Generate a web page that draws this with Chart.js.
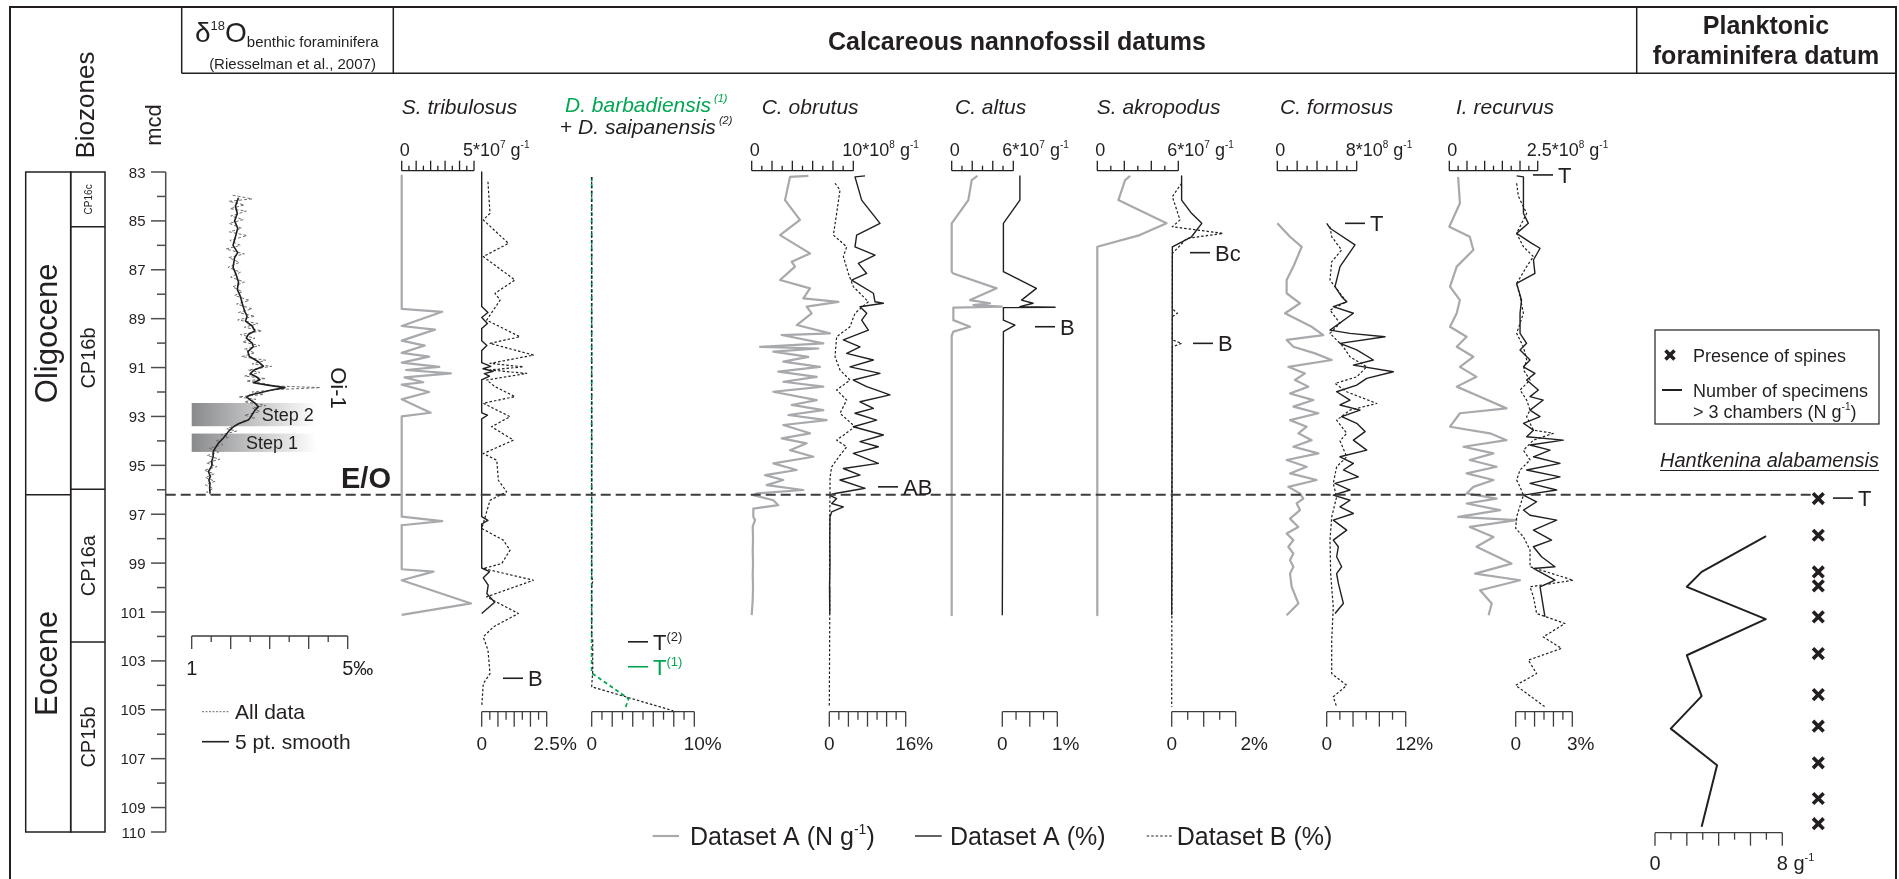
<!DOCTYPE html>
<html><head><meta charset="utf-8">
<script src="https://cdn.jsdelivr.net/npm/chart.js@4.4.1/dist/chart.umd.min.js"></script>
<style>html,body{margin:0;padding:0;background:#fff;overflow:hidden}canvas{display:block}</style>
</head><body>
<canvas id="c" width="1899" height="879"></canvas>
<script>
// ================= DATA (depth mcd, value) =================
const depthLabels = [83,85,87,89,91,93,95,97,99,101,103,105,107,109,110];
const depthMinor = [84,86,88,90,92,94,96,98,100,102,104,106,108];
const epochs = [['Oligocene',83,96.2],['Eocene',96.2,110]];
const subzones = [['CP16c',83,85.24],['CP16b',85.24,95.98],['CP16a',95.98,102.23],['CP15b',102.23,110]];
const eoDepth = 96.2;
const steps = [['Step 2',92.45,93.4],['Step 1',93.7,94.45]];

// δ18O benthic foraminifera (‰)
const d18O_smooth = [[84.05,2.20],[84.4,2.12],[84.7,2.17],[85.0,2.10],[85.3,2.18],[85.6,2.13],[86.0,2.06],[86.3,2.18],[86.5,2.10],[86.9,2.06],[87.2,2.14],[87.5,2.20],[87.8,2.17],[88.1,2.25],[88.4,2.30],[88.7,2.36],[88.9,2.42],[89.1,2.38],[89.3,2.55],[89.5,2.62],[89.65,2.45],[89.8,2.40],[90.0,2.55],[90.15,2.58],[90.35,2.44],[90.55,2.48],[90.75,2.70],[90.95,2.84],[91.1,2.60],[91.25,2.50],[91.4,2.68],[91.5,2.75],[91.62,2.58],[91.72,2.95],[91.82,3.39],[91.92,3.05],[92.03,2.75],[92.12,2.50],[92.2,2.41],[92.3,2.48],[92.45,2.62],[92.6,2.71],[92.75,2.62],[92.9,2.56],[93.05,2.50],[93.15,2.45],[93.3,2.20],[93.45,2.05],[93.6,1.95],[93.75,1.88],[93.9,1.80],[94.1,1.68],[94.3,1.60],[94.45,1.55],[94.65,1.55],[94.85,1.51],[95.0,1.52],[95.26,1.43],[95.45,1.48],[95.6,1.44],[95.75,1.47],[95.9,1.46],[96.15,1.47]];
const d18O_all = [[83.95,2.05],[84.1,2.55],[84.2,1.95],[84.35,2.35],[84.5,1.98],[84.6,2.40],[84.8,2.00],[84.95,2.32],[85.1,1.96],[85.3,2.28],[85.45,1.97],[85.6,2.42],[85.8,1.98],[86.0,2.25],[86.15,1.88],[86.35,2.35],[86.5,1.95],[86.7,2.22],[86.9,1.93],[87.1,2.25],[87.3,2.00],[87.5,2.35],[87.7,2.05],[87.9,2.30],[88.05,2.10],[88.25,2.48],[88.4,2.15],[88.6,2.55],[88.75,2.20],[88.9,2.62],[89.05,2.18],[89.2,2.70],[89.35,2.35],[89.5,2.80],[89.65,2.25],[89.8,2.62],[89.95,2.30],[90.1,2.75],[90.25,2.35],[90.4,2.62],[90.55,2.28],[90.7,2.90],[90.85,2.55],[90.95,3.05],[91.1,2.45],[91.2,2.75],[91.35,2.35],[91.45,2.90],[91.55,2.40],[91.65,2.85],[91.75,3.10],[91.82,4.30],[91.9,3.20],[92.0,2.55],[92.1,2.85],[92.2,2.20],[92.3,2.65],[92.4,2.35],[92.55,2.90],[92.65,2.55],[92.8,2.75],[92.95,2.35],[93.05,2.62],[93.2,2.30],[93.35,2.15],[93.5,1.90],[93.6,2.15],[93.75,1.75],[93.85,1.95],[94.0,1.62],[94.15,1.80],[94.3,1.45],[94.45,1.70],[94.6,1.40],[94.75,1.72],[94.9,1.38],[95.05,1.65],[95.2,1.32],[95.35,1.58],[95.5,1.35],[95.65,1.60],[95.8,1.35],[95.95,1.55],[96.1,1.38],[96.2,1.50]];

// S. tribulosus: N (x10^7 g-1), A %, B %
const tri_N = [[83.15,0],[88.6,0],[88.72,2.8],[89.3,0],[89.45,2.3],[89.9,0],[90.1,1.6],[90.4,0],[90.55,1.9],[90.8,0],[90.97,2.6],[91.1,0.3],[91.24,3.4],[91.4,0.2],[91.6,1.5],[91.7,0],[92.0,1.9],[92.3,0],[92.85,2.0],[93.0,0],[97.1,0],[97.28,2.8],[97.45,0],[99.25,0],[99.35,2.2],[99.7,0],[100.65,4.8],[101.12,0]];
const tri_A = [[83.0,0],[88.5,0],[88.75,0.24],[88.95,0],[89.2,0.22],[89.4,0],[89.9,0],[90.1,0.2],[90.3,0],[90.8,0],[90.95,0.35],[91.05,0.05],[91.15,0.44],[91.25,0.1],[91.35,0.3],[91.5,0],[92.85,0],[92.95,0.22],[93.1,0],[97.1,0],[97.25,0.24],[97.4,0],[99.2,0],[99.35,0.3],[99.6,0.06],[99.9,0.25],[100.25,0.2],[100.6,0.5],[101.06,0]];
const tri_B = [[83.4,0.24],[84.69,0.32],[84.96,0.06],[85.92,1.03],[86.46,0.06],[87.42,1.28],[87.96,0.51],[88.24,0.71],[89.06,0.19],[89.74,1.47],[90.01,0.32],[90.49,1.99],[90.83,0.32],[90.97,1.6],[91.1,0.32],[91.24,1.73],[91.51,0.19],[91.78,0.51],[92.19,1.28],[92.46,0.06],[93.01,1.09],[93.42,0.38],[93.97,1.22],[94.52,0.06],[94.79,0.58],[95.61,0.64],[96.08,0.96],[96.43,0.32],[97.38,0.06],[97.58,0],[98.06,0.83],[98.47,1.09],[99.02,0.77],[99.22,0.06],[99.7,1.99],[100.38,0.19],[101.06,1.41],[101.61,0.45],[102.02,0.06],[102.56,0.24],[103.52,0.32],[103.93,0.06],[104.88,0]];

// D. barbadiensis (A %, green) + D. saipanensis (B %)
const barb_A = [[83.2,0],[103.5,0],[104.55,3.6],[104.9,3.3]];
const saip_B = [[83.2,0],[99.6,0],[99.72,0.15],[99.85,0],[102.0,0],[102.1,0.1],[103.4,0.1],[104.06,0],[105.04,7.95]];

// C. obrutus: N (x10^8 g-1), A %, B %
const obr_N = [[83.16,5.58],[83.2,3.77],[84.15,3.28],[84.96,4.75],[85.58,2.79],[86.33,5.74],[86.67,3.93],[86.87,4.26],[87.42,2.79],[87.76,5.74],[88.17,5.08],[88.31,8.53],[88.51,5.41],[88.78,5.9],[89.26,4.43],[89.6,7.71],[89.67,2.95],[90.01,7.05],[90.15,0.82],[90.22,6.56],[90.35,2.13],[90.56,5.58],[90.76,3.11],[90.97,6.72],[91.17,2.62],[91.38,6.4],[91.58,3.11],[91.78,7.05],[91.99,2.13],[92.33,6.4],[92.53,3.93],[92.74,7.05],[92.94,3.61],[93.15,7.38],[93.35,3.11],[93.69,5.74],[93.9,2.95],[94.1,5.41],[94.38,3.77],[94.65,6.07],[94.92,2.13],[95.19,4.43],[95.4,1.31],[95.6,3.11],[95.81,1.47],[96.01,5.08],[96.15,0.49],[96.22,0.16],[96.43,2.13],[96.63,2.62],[96.77,0.16],[97.11,0.16],[97.24,0.33],[97.5,0.1],[98.0,0.13],[98.5,0.1],[99.0,0.13],[99.5,0.1],[100.0,0.13],[100.5,0.1],[101.13,0.0]];
const obr_A = [[83.16,7.48],[83.2,5.38],[84.15,6.78],[85.1,10.62],[85.58,5.73],[86.06,5.38],[86.4,9.57],[86.74,6.08],[87.15,7.83],[87.42,4.68],[87.96,9.23],[88.31,9.57],[88.37,11.32],[88.51,6.43],[88.78,7.83],[89.06,6.78],[89.47,8.18],[89.87,2.94],[90.15,6.43],[90.42,3.64],[90.69,9.23],[90.97,4.33],[91.24,10.62],[91.51,5.03],[91.78,7.83],[92.12,12.71],[92.4,6.43],[92.67,9.23],[92.87,5.38],[93.15,9.92],[93.42,5.03],[93.76,11.32],[94.03,6.43],[94.24,10.27],[94.51,5.03],[94.92,10.27],[95.13,2.94],[95.4,6.43],[95.6,2.24],[95.94,7.48],[96.15,1.2],[96.22,0],[96.36,1.54],[96.56,0.5],[96.7,2.94],[96.9,0.5],[97.11,0.15],[98,0.1],[99,0.15],[100,0.05],[101.06,0.1]];
const obr_B = [[83.46,1.2],[83.74,2.24],[84.69,1.54],[85.58,0.85],[86.06,3.64],[86.46,2.94],[87.15,4.0],[87.69,5.03],[88.31,8.18],[88.78,5.38],[89.33,4.33],[89.74,1.54],[90.56,1.2],[91.1,2.24],[91.51,4.33],[91.92,1.54],[92.33,3.64],[92.87,2.24],[93.42,5.38],[93.97,1.54],[94.24,3.64],[94.65,2.0],[95.06,0.5],[95.5,0.15],[96.22,0.15],[97,0.1],[99,0.05],[101,0.1],[103,0.05],[104.88,0.0]];

// C. altus: N (x10^7 g-1), A %
const alt_N = [[83.16,2.5],[83.33,1.95],[84.15,1.62],[85.1,0],[87.08,0],[87.15,0.16],[87.76,4.38],[88.24,1.79],[88.37,3.73],[88.44,2.11],[88.51,4.87],[88.55,0.16],[89.06,0.16],[89.33,1.79],[89.53,0.16],[89.7,0],[101.13,0]];
const alt_A = [[83.16,0.32],[84.15,0.32],[85.1,0.02],[87.08,0.02],[87.76,0.62],[88.24,0.35],[88.37,0.56],[88.51,0.32],[88.53,0.96],[88.55,0.02],[89.06,0.02],[89.26,0.23],[89.53,0.02],[101.13,0.0]];

// S. akropodus: N (x10^7 g-1), A %, B %
const akr_N = [[83.16,2.43],[83.33,2.06],[84.15,1.56],[85.1,5.13],[85.58,3.15],[86.06,0],[101.13,0]];
const akr_A = [[83.16,0.31],[84.15,0.31],[84.69,0.62],[85.1,0.94],[85.65,0.62],[86.06,0.02],[101.13,0.0]];
const akr_B = [[83.46,0.31],[84.01,0.02],[84.96,0.26],[85.24,0.02],[85.51,1.6],[85.72,0.47],[86.12,0.18],[86.33,0.02],[88.6,0.02],[88.78,0.18],[88.92,0.02],[89.87,0.02],[90.01,0.31],[90.15,0.02],[104.88,0.0]];

// C. formosus: N (x10^8 g-1), A %, B %
const for_N = [[85.1,0.0],[85.65,1.28],[86.06,2.46],[86.87,1.62],[87.42,0.94],[87.96,0.94],[88.37,2.29],[88.78,0.78],[89.33,3.46],[89.67,4.64],[89.87,0.94],[90.15,1.62],[90.42,3.8],[90.69,5.48],[90.97,1.11],[91.24,2.79],[91.51,1.78],[91.78,3.13],[92.06,1.28],[92.33,3.63],[92.6,1.62],[92.87,4.14],[93.15,1.28],[93.42,2.96],[93.69,2.12],[93.97,3.46],[94.24,1.62],[94.51,4.14],[94.78,0.94],[95.06,2.96],[95.33,1.28],[95.6,3.97],[95.88,1.11],[96.15,2.29],[96.36,2.62],[96.56,1.95],[96.83,2.29],[97.18,1.28],[97.52,2.12],[97.79,0.94],[98.06,1.62],[98.33,1.11],[98.61,1.62],[98.88,1.28],[99.15,1.62],[99.43,1.28],[99.97,1.45],[100.65,2.12],[101.13,0.94]];
const for_A = [[85.1,0.0],[85.3,0.5],[85.98,4.3],[86.87,2.02],[87.69,1.26],[88.1,2.27],[88.31,3.04],[88.51,1.0],[88.78,4.05],[89.47,0.5],[89.6,3.54],[89.74,8.86],[90.01,2.02],[90.28,4.56],[90.69,7.09],[90.9,4.05],[91.17,10.13],[91.44,6.08],[91.72,4.56],[91.99,1.51],[92.33,3.54],[92.53,2.02],[92.74,5.07],[93.01,2.27],[93.28,4.56],[93.62,5.83],[93.97,4.05],[94.38,6.08],[94.65,2.02],[94.92,4.05],[95.19,2.53],[95.47,4.81],[95.74,1.26],[96.01,3.54],[96.22,1.0],[96.43,3.54],[96.7,2.02],[96.97,4.05],[97.24,1.0],[97.65,3.04],[98.06,1.0],[98.33,1.77],[98.74,1.51],[99.15,2.27],[99.43,1.51],[99.83,1.77],[100.65,2.53],[101.06,1.26]];
const for_B = [[85.24,0.5],[85.65,0.76],[86.19,2.27],[86.67,0.76],[87.42,0.5],[87.96,2.02],[88.31,3.04],[88.65,0.5],[89.19,2.02],[89.6,0.5],[90.15,2.53],[90.56,3.54],[90.97,6.08],[91.38,4.56],[91.65,1.26],[91.99,3.04],[92.47,7.6],[92.74,3.54],[93.15,1.51],[93.69,3.04],[94.0,2.02],[94.65,3.04],[95.06,1.51],[95.74,1.0],[96.29,1.51],[97.11,0.76],[98.06,0.5],[99.43,0.6],[100.8,1.0],[102.15,0.76],[103.52,0.76],[104.0,3.04],[104.47,1.0],[104.88,1.51]];

// I. recurvus: N (x10^8 g-1), A %, B %
const rec_N = [[83.2,0.25],[84.28,0.3],[85.24,0.0],[85.65,0.58],[86.19,0.68],[86.87,0.21],[87.69,0.02],[88.24,0.3],[88.78,0.21],[89.33,0.02],[89.74,0.49],[90.15,0.21],[90.56,0.68],[90.97,0.3],[91.38,0.77],[91.78,0.21],[92.19,0.87],[92.67,1.62],[92.87,0.3],[93.42,0.02],[93.69,1.15],[93.97,1.62],[94.24,0.4],[94.51,1.25],[94.78,0.58],[95.06,1.34],[95.33,0.49],[95.6,1.25],[95.88,0.68],[96.15,0.49],[96.36,1.34],[96.56,0.49],[96.83,1.44],[97.11,0.25],[97.24,1.9],[97.52,0.58],[97.93,1.25],[98.33,0.77],[99.02,1.76],[99.43,0.73],[99.7,2.0],[100.11,0.87],[100.65,1.2],[101.13,1.11]];
const rec_A = [[83.16,0.05],[83.2,0.41],[84.69,0.41],[85.1,0.67],[85.51,0.05],[85.92,0.85],[86.12,1.29],[86.6,0.94],[87.15,1.02],[87.56,0.05],[88.24,0.31],[88.78,0.23],[89.6,0.23],[90.01,0.58],[90.28,0.23],[90.69,0.76],[90.97,0.41],[91.24,1.02],[91.51,0.58],[91.92,1.2],[92.19,0.76],[92.33,1.46],[92.74,0.76],[93.01,1.29],[93.28,0.41],[93.56,0.94],[93.83,0.58],[93.97,2.52],[94.17,0.76],[94.38,1.82],[94.65,0.94],[94.92,2.35],[95.19,0.58],[95.47,2.35],[95.74,0.76],[96.01,2.17],[96.22,0.41],[96.49,1.11],[96.83,0.41],[97.04,0.76],[97.24,2.17],[97.65,0.94],[98.06,1.9],[98.33,0.94],[98.74,1.37],[99.15,2.08],[99.22,0.94],[99.7,2.08],[99.97,1.29],[101.2,1.55]];
const rec_B = [[83.46,0.05],[83.99,0.14],[84.69,0.58],[85.51,0.05],[86.06,0.41],[86.46,0.94],[86.87,0.58],[87.56,0.05],[88.1,0.23],[88.78,0.41],[89.6,0.05],[90.15,0.41],[90.69,0.58],[91.1,0.41],[91.51,0.76],[91.92,0.23],[92.33,0.58],[92.74,0.76],[93.01,0.58],[93.56,0.94],[93.69,1.99],[93.97,0.94],[94.38,0.41],[94.78,0.76],[95.19,0.23],[95.6,0.05],[95.88,0.23],[96.22,0.41],[97.11,0.05],[97.58,0],[97.93,0.41],[98.47,0.76],[99.15,0.76],[99.7,3.05],[99.97,0.76],[100.38,0.94],[101.06,1.11],[101.47,2.61],[102.02,1.46],[102.49,2.43],[102.97,0.67],[103.52,1.11],[104.0,0],[104.88,1.55]];

// Hantkenina alabamensis: specimens >3 chambers (N g-1) and presence of spines
const hant_N = [[97.9,6.98],[99.36,2.93],[99.97,2.0],[101.29,6.96],[102.77,2.0],[104.44,2.93],[105.77,0.99],[107.27,3.9],[109.79,2.93]];
const hant_spines = [[96.36,1],[97.86,1],[99.36,1],[99.93,1],[101.2,1],[102.7,1],[104.38,1],[105.67,1],[107.17,1],[108.63,1],[109.66,1]];

// Datum labels: [depth, label, superscript, colour, dash start px]
const datums = [
 [103.71,'B','', 'k', 503],
 [102.22,'T','(2)','k', 628],
 [103.24,'T','(1)','g', 628],
 [95.88,'AB','','k', 878],
 [89.33,'B','','k', 1035],
 [86.3,'Bc','','k', 1190],
 [90.01,'B','','k', 1193],
 [85.1,'T','','k', 1345],
 [83.12,'T','','k', 1533],
 [96.34,'T','','k', 1833]
];

// Scale bars (ranges + tick labels)
const scaleBars = [
 {id:'xD18O', a:1, b:5, n:8, lab0:'1', lab1:'5', unit:'‰', kind:'d18'},
 {id:'xTriN', a:0, b:5, n:10, lab0:'0', lab1:'5*10', exp:'7', kind:'top'},
 {id:'xTriP', a:0, b:2.5, n:8, lab0:'0', lab1:'2.5', unit:'%', kind:'bot'},
 {id:'xBarP', a:0, b:10, n:10, lab0:'0', lab1:'10', unit:'%', kind:'bot'},
 {id:'xObrN', a:0, b:10, n:10, lab0:'0', lab1:'10*10', exp:'8', kind:'top'},
 {id:'xObrP', a:0, b:16, n:8, lab0:'0', lab1:'16', unit:'%', kind:'bot'},
 {id:'xAltN', a:0, b:6, n:6, lab0:'0', lab1:'6*10', exp:'7', kind:'top'},
 {id:'xAltP', a:0, b:1, n:4, lab0:'0', lab1:'1', unit:'%', kind:'bot'},
 {id:'xAkrN', a:0, b:6, n:6, lab0:'0', lab1:'6*10', exp:'7', kind:'top'},
 {id:'xAkrP', a:0, b:2, n:4, lab0:'0', lab1:'2', unit:'%', kind:'bot', dx:10},
 {id:'xForN', a:0, b:8, n:8, lab0:'0', lab1:'8*10', exp:'8', kind:'top'},
 {id:'xForP', a:0, b:12, n:6, lab0:'0', lab1:'12', unit:'%', kind:'bot'},
 {id:'xRecN', a:0, b:2.5, n:10, lab0:'0', lab1:'2.5*10', exp:'8', kind:'top'},
 {id:'xRecP', a:0, b:3, n:6, lab0:'0', lab1:'3', unit:'%', kind:'bot'},
 {id:'xHan', a:0, b:8, n:8, lab0:'0', lab1:'8', unit:' g', exp2:'-1', kind:'han'}
];

// ================= LAYOUT / STYLE =================
const W = 1899, H = 879;
const INK = '#231f20', GRAY = '#a7a9ac', GREEN = '#00a651';
const FONT = '"Liberation Sans", Arial, Helvetica, sans-serif';
// pixel placement of each value axis: [value0, px0, value1, px1]
const AXPX = {
 xD18O:[1,191.7,5,347.7], xTriN:[0,401.7,5,474], xTriP:[0,481.7,2.5,546.7], xBarP:[0,591.7,10,694.3],
 xObrN:[0,751.7,10,853.3], xObrP:[0,829.3,16,905.7], xAltN:[0,951.7,6,1013.3], xAltP:[0,1002.3,1,1057.3],
 xAkrN:[0,1097.3,6,1178.3], xAkrP:[0,1171.7,2,1235.7], xForN:[0,1277.3,8,1356.7], xForP:[0,1326.7,12,1405.7],
 xRecN:[0,1449.3,2.5,1537.7], xRecP:[0,1515.7,3,1572.3], xHan:[0,1655,8,1782.3], xPres:[0,1718.3,1,1818.3]
};
const Y0PX = 172, Y1PX = 832;

const scales = {};
for (const k in AXPX) {
  const [v0,p0,v1,p1] = AXPX[k]; const s = (p1-p0)/(v1-v0); const mn = v0 - p0/s;
  scales[k] = {type:'linear', display:false, bounds:'data', min:mn, max:mn + W/s, grace:0};
}
{ const s = (Y1PX-Y0PX)/(110-83); const mn = 83 - Y0PX/s;
  scales.y = {type:'linear', display:false, reverse:true, bounds:'data', min:mn, max:mn + H/s, grace:0}; }

function ds(arr, xid, st){
  return Object.assign({data:arr.map(p=>({x:p[1], y:p[0]})), xAxisID:xid, yAxisID:'y', showLine:true,
    pointRadius:0, pointHoverRadius:0, pointHitRadius:0, fill:false, tension:0, borderJoinStyle:'round', clip:false}, st);
}
const sGray = {borderColor:GRAY, borderWidth:2.2};
const sBlk = {borderColor:INK, borderWidth:1.4};
const sDot = {borderColor:INK, borderWidth:1.2, borderDash:[2.5,2]};

const datasets = [
  Object.assign(ds(hant_spines,'xPres',{}),{showLine:false, pointStyle:'crossRot', pointRadius:7.5, pointBorderWidth:3.6, pointBorderColor:INK, borderColor:INK}),
  ds(hant_N,'xHan',{borderColor:INK, borderWidth:2}),
  ds(d18O_smooth,'xD18O',{borderColor:INK, borderWidth:1.6}),
  ds(d18O_all,'xD18O',{borderColor:'#6d6e71', borderWidth:1, borderDash:[3,2]}),
  ds(tri_A,'xTriP',sBlk), ds(obr_A,'xObrP',sBlk), ds(alt_A,'xAltP',sBlk), ds(akr_A,'xAkrP',sBlk), ds(for_A,'xForP',sBlk), ds(rec_A,'xRecP',sBlk),
  ds(saip_B,'xBarP',sDot),
  ds(tri_B,'xTriP',sDot), ds(obr_B,'xObrP',sDot), ds(akr_B,'xAkrP',sDot), ds(for_B,'xForP',sDot), ds(rec_B,'xRecP',sDot),
  ds(barb_A,'xBarP',{borderColor:GREEN, borderWidth:1.8, borderDash:[4,3]}),
  ds(tri_N,'xTriN',sGray), ds(obr_N,'xObrN',sGray), ds(alt_N,'xAltN',sGray), ds(akr_N,'xAkrN',sGray), ds(for_N,'xForN',sGray), ds(rec_N,'xRecN',sGray)
];

// ================= DRAW HELPERS =================
function fnt(s){ return (s.i?'italic ':'') + (s.b?'bold ':'') + s.s + 'px ' + FONT; }
function rich(ctx, x, y, segs, align){
  const ws = segs.map(s=>{ctx.font=fnt(s); return ctx.measureText(s.t).width;});
  const tot = ws.reduce((a,b)=>a+b,0);
  let cx = x;
  if (align==='center') cx = x - tot/2; else if (align==='right') cx = x - tot; else if (align==='first') cx = x - ws[0]/2;
  ctx.textAlign='left'; ctx.textBaseline='alphabetic';
  segs.forEach((s,i)=>{ ctx.font=fnt(s); ctx.fillStyle=s.c||INK; ctx.fillText(s.t, cx, y+(s.dy||0)); cx+=ws[i]; });
  return tot;
}
function line(ctx,x0,y0,x1,y1,w,c,dash){ ctx.save(); ctx.beginPath(); ctx.strokeStyle=c||INK; ctx.lineWidth=w||1.5; ctx.setLineDash(dash||[]); ctx.moveTo(x0,y0); ctx.lineTo(x1,y1); ctx.stroke(); ctx.restore(); }
function vtext(ctx, t, x, y, size, rot, style){ ctx.save(); ctx.translate(x,y); ctx.rotate(rot); ctx.font=(style||'')+' '+size+'px '+FONT; ctx.fillStyle=INK; ctx.textAlign='center'; ctx.textBaseline='middle'; ctx.fillText(t,0,0); ctx.restore(); }

const figPlugin = {
  id:'fig',
  beforeDatasetsDraw(chart){
    const ctx = chart.ctx, Y = chart.scales.y, X = chart.scales.xD18O;
    steps.forEach(([lab,d0,d1])=>{
      const x0 = X.getPixelForValue(1), x1 = X.getPixelForValue(4.2);
      const g = ctx.createLinearGradient(x0,0,x1,0); g.addColorStop(0,'#898a8c'); g.addColorStop(1,'#ffffff');
      ctx.fillStyle = g; const y0 = Y.getPixelForValue(d0), y1 = Y.getPixelForValue(d1);
      ctx.fillRect(x0, y0, x1-x0, y1-y0);
    });
  },
  afterDatasetsDraw(chart){
    const ctx = chart.ctx, Y = chart.scales.y, S = chart.scales;
    // frame
    ctx.save(); ctx.beginPath(); ctx.strokeStyle=INK; ctx.lineWidth=2; ctx.moveTo(10,H+2); ctx.lineTo(10,7); ctx.lineTo(1896,7); ctx.lineTo(1896,H+2); ctx.stroke(); ctx.restore();
    line(ctx,181.7,7,181.7,73.3,1.5); line(ctx,393.3,7,393.3,73.3,1.5); line(ctx,181.7,73.3,1896,73.3,1.5); line(ctx,1636.7,7,1636.7,73.3,1.5);
    // header texts
    rich(ctx,195,42,[{t:'δ',s:28},{t:'18',s:13,dy:-12},{t:'O',s:28},{t:'benthic foraminifera',s:15,dy:5}],'left');
    rich(ctx,292.5,68.5,[{t:'(Riesselman et al., 2007)',s:15}],'center');
    rich(ctx,1017,50,[{t:'Calcareous nannofossil datums',s:25,b:1}],'center');
    rich(ctx,1766,34,[{t:'Planktonic',s:25,b:1}],'center');
    rich(ctx,1766,64,[{t:'foraminifera datum',s:25,b:1}],'center');
    // biozone columns
    vtext(ctx,'Biozones',86.7,105,26,-Math.PI/2);
    vtext(ctx,'mcd',155,125,22,-Math.PI/2);
    const yt = Y.getPixelForValue(83), yb = Y.getPixelForValue(110);
    ctx.save(); ctx.strokeStyle=INK; ctx.lineWidth=1.5; ctx.strokeRect(25.7,yt,45,yb-yt); ctx.strokeRect(70.7,yt,34.3,yb-yt); ctx.restore();
    epochs.forEach(([n,d0,d1],i)=>{ const a=Y.getPixelForValue(d0), b=Y.getPixelForValue(d1); if(i>0) line(ctx,25.7,a,70.7,a,1.5); vtext(ctx,n,48,(a+b)/2,31,-Math.PI/2); });
    subzones.forEach(([n,d0,d1],i)=>{ const a=Y.getPixelForValue(d0), b=Y.getPixelForValue(d1); if(i>0) line(ctx,70.7,a,105,a,1.5); vtext(ctx,n,89,(a+b)/2,i===0?10:20,-Math.PI/2); });
    // depth axis
    line(ctx,165.7,yt,165.7,yb,1.5,'#4d4d4f');
    depthLabels.forEach(d=>{ const p=Y.getPixelForValue(d); line(ctx,151,p,165.7,p,1.5,'#4d4d4f'); rich(ctx,145.5,p+5.5,[{t:String(d),s:15}],'right'); });
    depthMinor.forEach(d=>{ const p=Y.getPixelForValue(d); line(ctx,157,p,165.7,p,1.5,'#4d4d4f'); });
    // panel titles
    const ty = 113.5;
    rich(ctx,401.7,ty,[{t:'S. tribulosus',s:21,i:1}]);
    rich(ctx,565,112,[{t:'D. barbadiensis',s:21,i:1,c:GREEN},{t:' (1)',s:11,i:1,c:GREEN,dy:-10}]);
    rich(ctx,560,133.5,[{t:'+ ',s:21},{t:'D. saipanensis',s:21,i:1},{t:' (2)',s:11,i:1,dy:-10}]);
    rich(ctx,761.7,ty,[{t:'C. obrutus',s:21,i:1}]);
    rich(ctx,955,ty,[{t:'C. altus',s:21,i:1}]);
    rich(ctx,1096.7,ty,[{t:'S. akropodus',s:21,i:1}]);
    rich(ctx,1280,ty,[{t:'C. formosus',s:21,i:1}]);
    rich(ctx,1456,ty,[{t:'I. recurvus',s:21,i:1}]);
    // scale bars
    scaleBars.forEach(b=>{
      const sc = S[b.id]; const p = v=>sc.getPixelForValue(v);
      let y, dir, L, Sm, ly, fs;
      if (b.kind==='top'){ y=170.7; dir=-1; L=10; Sm=5; ly=155.5; fs=18; }
      else if (b.kind==='bot'){ y=711.7; dir=1; L=15; Sm=8; ly=750; fs=19; }
      else if (b.kind==='d18'){ y=636; dir=1; L=13; Sm=6; ly=675; fs=20; }
      else { y=832.7; dir=1; L=13; Sm=7; ly=870; fs=20; }
      const c = b.kind==='top' ? INK : '#3d3d3f';
      line(ctx,p(b.a),y,p(b.b),y,1.3,c);
      for (let i=0;i<=b.n;i++){ const v=b.a+(b.b-b.a)*i/b.n; const x=p(v); line(ctx,x,y,x,y+dir*(i%2===0?L:Sm),1.3,c); }
      if (b.kind==='top'){
        rich(ctx,p(b.a)+3,ly,[{t:b.lab0,s:fs}],'center');
        rich(ctx,p(b.b)-11,ly,[{t:b.lab1,s:fs},{t:b.exp,s:10,dy:-8},{t:' g',s:fs},{t:'-1',s:10,dy:-8}],'left');
      } else {
        rich(ctx,p(b.a),ly,[{t:b.lab0,s:fs}],'center');
        const segs=[{t:b.lab1,s:fs},{t:b.unit,s:fs}]; if (b.exp2) segs.push({t:b.exp2,s:11,dy:-9});
        rich(ctx,p(b.b)+(b.dx||0),ly,segs,'first');
      }
    });
    // δ18O extras
    steps.forEach(([lab,d0,d1],i)=>{ const m=(Y.getPixelForValue(d0)+Y.getPixelForValue(d1))/2; rich(ctx,i===0?261.7:246,m+6.5,[{t:lab,s:18}]); });
    vtext(ctx,'Oi-1',337.5,388,22,Math.PI/2);
    rich(ctx,341,488,[{t:'E/O',s:29,b:1}]);
    line(ctx,202,711.7,229,711.7,1,'#6d6e71',[2,1.5]); rich(ctx,235,719,[{t:'All data',s:21}]);
    line(ctx,202,741.7,229,741.7,1.6,INK); rich(ctx,235,749,[{t:'5 pt. smooth',s:21}]);
    // E/O boundary
    const ye = Y.getPixelForValue(eoDepth);
    line(ctx,165.7,ye,1815,ye,2,'#3d3d3f',[10,5]);
    // datum labels
    datums.forEach(([d,t,sup,col,x])=>{ const yy=Y.getPixelForValue(d); const c= col==='g'?GREEN:INK;
      line(ctx,x,yy,x+20,yy,1.6,c);
      const segs=[{t:t,s:22,c:c}]; if(sup) segs.push({t:sup,s:13,c:c,dy:-9});
      rich(ctx,x+25,yy+8,segs); });
    // planktonic legend box
    ctx.save(); ctx.strokeStyle=INK; ctx.lineWidth=1.2; ctx.strokeRect(1655,330,224,94); ctx.restore();
    line(ctx,1665.5,350.5,1674.5,359.5,3.6); line(ctx,1674.5,350.5,1665.5,359.5,3.6);
    rich(ctx,1693,361.5,[{t:'Presence of spines',s:18}]);
    line(ctx,1662,390,1682,390,2);
    rich(ctx,1693,396.5,[{t:'Number of specimens',s:18}]);
    rich(ctx,1693,417.5,[{t:'> 3 chambers (N g',s:18},{t:'-1',s:10,dy:-8},{t:')',s:18}]);
    const hw = rich(ctx,1879,467,[{t:'Hantkenina alabamensis',s:20,i:1}],'right');
    line(ctx,1879-hw,470.5,1879,470.5,1.2);
    // bottom legend
    line(ctx,652.7,836,679,836,2.2,GRAY); rich(ctx,690,845,[{t:'Dataset A (N g',s:25},{t:'-1',s:14,dy:-11},{t:')',s:25}]);
    line(ctx,915,836,941.7,836,1.4,INK); rich(ctx,950,845,[{t:'Dataset A (%)',s:25}]);
    line(ctx,1146.7,836,1171.7,836,1.2,INK,[2.5,2]); rich(ctx,1176.7,845,[{t:'Dataset B (%)',s:25}]);
  }
};

new Chart(document.getElementById('c'), {
  type:'scatter',
  data:{datasets},
  options:{responsive:false, devicePixelRatio:1, animation:false, events:[],
    layout:{padding:0, autoPadding:false}, scales,
    plugins:{legend:{display:false}, tooltip:{enabled:false}}},
  plugins:[figPlugin]
});
</script>
</body></html>
